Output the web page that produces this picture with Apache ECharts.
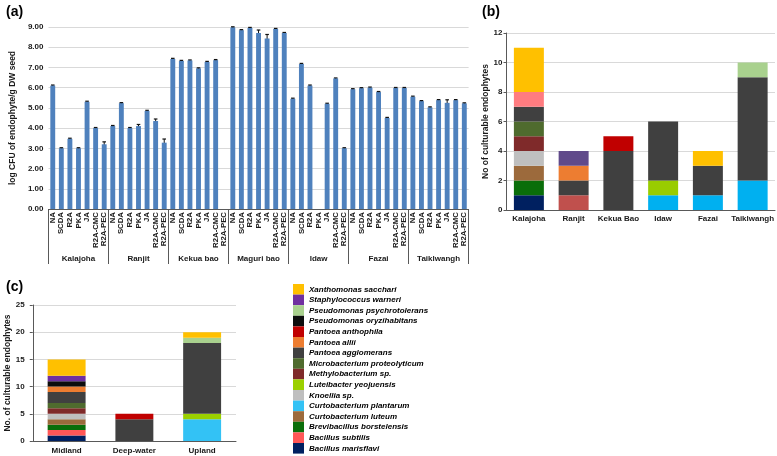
<!DOCTYPE html>
<html><head><meta charset="utf-8">
<script src="https://cdn.jsdelivr.net/npm/echarts@6/dist/echarts.min.js"></script>
<style>html,body{margin:0;padding:0;background:#fff}#c{width:777px;height:456px}</style>
</head><body><div id="c"></div>
<script>
// ---------- Panel (a) data ----------
const treatments = ["NA","SCDA","R2A","PKA","JA","R2A-CMC","R2A-PEC"];
const cultivarsA = ["Kalajoha","Ranjit","Kekua bao","Maguri bao","Idaw","Fazai","Taiklwangh"];
const logKalajoha   = [6.10, 3.00, 3.47, 3.00, 5.30, 4.00, 3.20];
const logRanjit     = [4.10, 5.23, 4.00, 4.10, 4.85, 4.35, 3.28];
const logKekuaBao   = [7.42, 7.32, 7.34, 6.95, 7.27, 7.36, null];
const logMaguriBao  = [8.98, 8.84, 8.95, 8.70, 8.43, 8.90, 8.70];
const logIdaw       = [5.45, 7.17, 6.10, null, 5.20, 6.45, 3.00];
const logFazai      = [5.92, 5.97, 6.00, 5.78, 4.50, 5.98, 5.98];
const logTaiklwangh = [5.55, 5.33, 5.02, 5.38, 5.25, 5.38, 5.22];
const errKalajoha   = [0.03, 0.03, 0.03, 0.03, 0.03, 0.03, 0.12];
const errRanjit     = [0.03, 0.03, 0.03, 0.08, 0.03, 0.10, 0.18];
const errKekuaBao   = [0.03, 0.03, 0.03, 0.03, 0.03, 0.03, null];
const errMaguriBao  = [0.03, 0.03, 0.03, 0.15, 0.20, 0.03, 0.03];
const errIdaw       = [0.03, 0.03, 0.03, null, 0.03, 0.03, 0.03];
const errFazai      = [0.03, 0.03, 0.03, 0.03, 0.03, 0.03, 0.03];
const errTaiklwangh = [0.03, 0.03, 0.03, 0.03, 0.15, 0.03, 0.03];
const yTicksA = [0,1,2,3,4,5,6,7,8,9];

// ---------- Panel (b) / (c) data ----------
const sitesB = ["Kalajoha","Ranjit","Kekua Bao","Idaw","Fazai","Taiklwangh"];
const ecosystemsC = ["Midland","Deep-water","Upland"];
const species = ["Bacillus marisflavi","Bacillus subtilis","Brevibacillus borstelensis","Curtobacterium luteum",
  "Curtobacterium plantarum","Knoellia sp.","Luteibacter yeojuensis","Methylobacterium sp.",
  "Microbacterium proteolyticum","Pantoea agglomerans","Pantoea allii","Pantoea anthophila",
  "Pseudomonas oryzihabitans","Pseudomonas psychrotolerans","Staphylococcus warneri","Xanthomonas sacchari"];
// counts per species in panel (b), order of sitesB
const countsB = [
  [1,0,0,0,0,0],
  [0,1,0,0,0,0],
  [1,0,0,0,0,0],
  [1,0,0,0,0,0],
  [0,0,0,1,1,2],
  [1,0,0,0,0,0],
  [0,0,0,1,0,0],
  [1,0,0,0,0,0],
  [1,0,0,0,0,0],
  [1,1,4,4,2,7],
  [0,1,0,0,0,0],
  [0,0,1,0,0,0],
  [1,0,0,0,0,0],
  [0,0,0,0,0,1],
  [0,1,0,0,0,0],
  [3,0,0,0,1,0]
];
// counts per species in panel (c), order of ecosystemsC
const countsC = [
  [1,0,0],[1,0,0],[1,0,0],[1,0,0],
  [0,0,4],[1,0,0],[0,0,1],[1,0,0],
  [1,0,0],[2,4,13],[1,0,0],[0,1,0],
  [1,0,0],[0,0,1],[1,0,0],[3,0,1]
];
const colorsC = ["#002060","#ff5757","#0a6e0a","#9c6a3c","#33c2f5","#bfbfbf","#9bd000","#7f2a2a",
  "#4f6b2e","#404040","#ed7d31","#c00000","#0d0d0d","#a9d18e","#7030a0","#ffc000"];
const colorsB = ["#002060","#c0504d","#0a6e0a","#9c6a3c","#00b0f0","#bfbfbf","#99cc00","#7f2a2a",
  "#4f6b2e","#404040","#ed7d31","#c00000","#ff7c80","#a9d18e","#604a8a","#ffc000"];

// ---------- build ----------
const FONT = "'Liberation Sans', Arial, Helvetica, sans-serif";
const logAll = [logKalajoha,logRanjit,logKekuaBao,logMaguriBao,logIdaw,logFazai,logTaiklwangh];
const errAll = [errKalajoha,errRanjit,errKekuaBao,errMaguriBao,errIdaw,errFazai,errTaiklwangh];
const catsA = [], valsA = [], errData = [];
logAll.forEach((arr, g) => arr.forEach((v, t) => {
  const idx = catsA.length;
  catsA.push(treatments[t]);
  valsA.push(v);
  if (v != null) errData.push([idx, v, errAll[g][t]]);
}));

const lab = {fontFamily: FONT, fontWeight: 'bold', fontSize: 8, color: '#1a1a1a'};
const axisDark = {lineStyle: {color: '#595959', width: 1}};
const splitL = {show: true, lineStyle: {color: '#d9d9d9', width: 1}};

const series = [
  {type: 'bar', xAxisIndex: 0, yAxisIndex: 0, data: valsA, barWidth: '57%',
   itemStyle: {color: '#4f81bd'}, silent: true, legendHoverLink: false},
  {type: 'custom', xAxisIndex: 0, yAxisIndex: 0, data: errData, silent: true,
   renderItem: function (params, api) {
     const x = api.value(0), v = api.value(1), e = api.value(2);
     const hi = api.coord([x, v + e]), lo = api.coord([x, v - e]);
     const w = 1.8;
     return {type: 'group', children: [
       {type: 'line', shape: {x1: hi[0], y1: hi[1], x2: lo[0], y2: lo[1]}, style: {stroke: '#111', lineWidth: 1}},
       {type: 'line', shape: {x1: hi[0]-w, y1: hi[1], x2: hi[0]+w, y2: hi[1]}, style: {stroke: '#111', lineWidth: 1.2}},
       {type: 'line', shape: {x1: lo[0]-w, y1: lo[1], x2: lo[0]+w, y2: lo[1]}, style: {stroke: '#111', lineWidth: 1.2}}
     ]};
   }}
];
species.forEach((s, i) => {
  series.push({type: 'bar', name: s, stack: 'b', xAxisIndex: 2, yAxisIndex: 1, data: countsB[i],
    barWidth: '67%', itemStyle: {color: colorsB[i]}, silent: true});
});
species.forEach((s, i) => {
  series.push({type: 'bar', name: s, stack: 'c', xAxisIndex: 3, yAxisIndex: 2, data: countsC[i],
    barWidth: '56%', itemStyle: {color: colorsC[i]}, silent: true});
});

const legendData = species.map((s, i) => ({name: s, icon: 'rect', itemStyle: {color: colorsC[i]}})).reverse();

const option = {
  animation: false,
  backgroundColor: '#fff',
  textStyle: {fontFamily: FONT},
  title: [
    {text: '(a)', left: 1, top: 0, textStyle: {fontFamily: FONT, fontWeight: 'bold', fontSize: 14, color: '#000'}},
    {text: '(b)', left: 477, top: 0, textStyle: {fontFamily: FONT, fontWeight: 'bold', fontSize: 14, color: '#000'}},
    {text: '(c)', left: 1, top: 275, textStyle: {fontFamily: FONT, fontWeight: 'bold', fontSize: 14, color: '#000'}}
  ],
  legend: {
    orient: 'vertical', left: 293, top: 284, padding: 0, height: 175, itemGap: 0, itemWidth: 11, itemHeight: 10.6,
    selectedMode: false, data: legendData,
    textStyle: {fontFamily: FONT, fontWeight: 'bold', fontStyle: 'italic', fontSize: 8, lineHeight: 10.6, color: '#000'}
  },
  grid: [
    {left: 37.6, top: 27, width: 431, height: 182},
    {left: 506.5, top: 33, width: 270, height: 177},
    {left: 32.75, top: 305, width: 203.25, height: 136}
  ],
  xAxis: [
    {type: 'category', gridIndex: 0, data: catsA, axisLine: axisDark, axisTick: {show: false},
     axisLabel: Object.assign({rotate: 90, margin: 3, interval: 0}, lab, {fontSize: 7.8})},
    {type: 'category', gridIndex: 0, data: cultivarsA, position: 'bottom', axisLine: axisDark,
     axisTick: {show: true, length: 55, alignWithLabel: false, lineStyle: {color: '#595959'}},
     axisLabel: Object.assign({margin: 46, interval: 0}, lab)},
    {type: 'category', gridIndex: 1, data: sitesB, axisLine: axisDark, axisTick: {show: false},
     axisLabel: Object.assign({margin: 5, interval: 0}, lab)},
    {type: 'category', gridIndex: 2, data: ecosystemsC, axisLine: axisDark, axisTick: {show: false},
     axisLabel: Object.assign({margin: 6, interval: 0}, lab)}
  ],
  yAxis: [
    {type: 'value', gridIndex: 0, min: yTicksA[0], max: yTicksA[yTicksA.length-1], interval: 1,
     axisLine: {show: false}, axisTick: {show: false}, splitLine: splitL,
     axisLabel: Object.assign({margin: 5, formatter: v => v.toFixed(2)}, lab),
     name: 'log CFU of endophyte/g DW seed', nameLocation: 'middle', nameGap: 24,
     nameTextStyle: Object.assign({}, lab, {fontSize: 8.5})},
    {type: 'value', gridIndex: 1, min: 0, max: 12, interval: 2,
     axisLine: {show: true, lineStyle: {color: '#595959'}}, axisTick: {show: true, length: 3, lineStyle: {color: '#595959'}},
     splitLine: splitL, axisLabel: Object.assign({margin: 4}, lab),
     name: 'No of culturable endophytes', nameLocation: 'middle', nameGap: 15,
     nameTextStyle: Object.assign({}, lab, {fontSize: 8.5})},
    {type: 'value', gridIndex: 2, min: 0, max: 25, interval: 5,
     axisLine: {show: true, lineStyle: {color: '#595959'}}, axisTick: {show: true, length: 3, lineStyle: {color: '#595959'}},
     splitLine: splitL, axisLabel: Object.assign({margin: 8}, lab),
     name: 'No. of culturable endophytes', nameLocation: 'middle', nameGap: 17,
     nameTextStyle: Object.assign({}, lab, {fontSize: 8.5})}
  ],
  series: series
};
const chart = echarts.init(document.getElementById('c'), null, {renderer: 'canvas'});
chart.setOption(option);
</script></body></html>
